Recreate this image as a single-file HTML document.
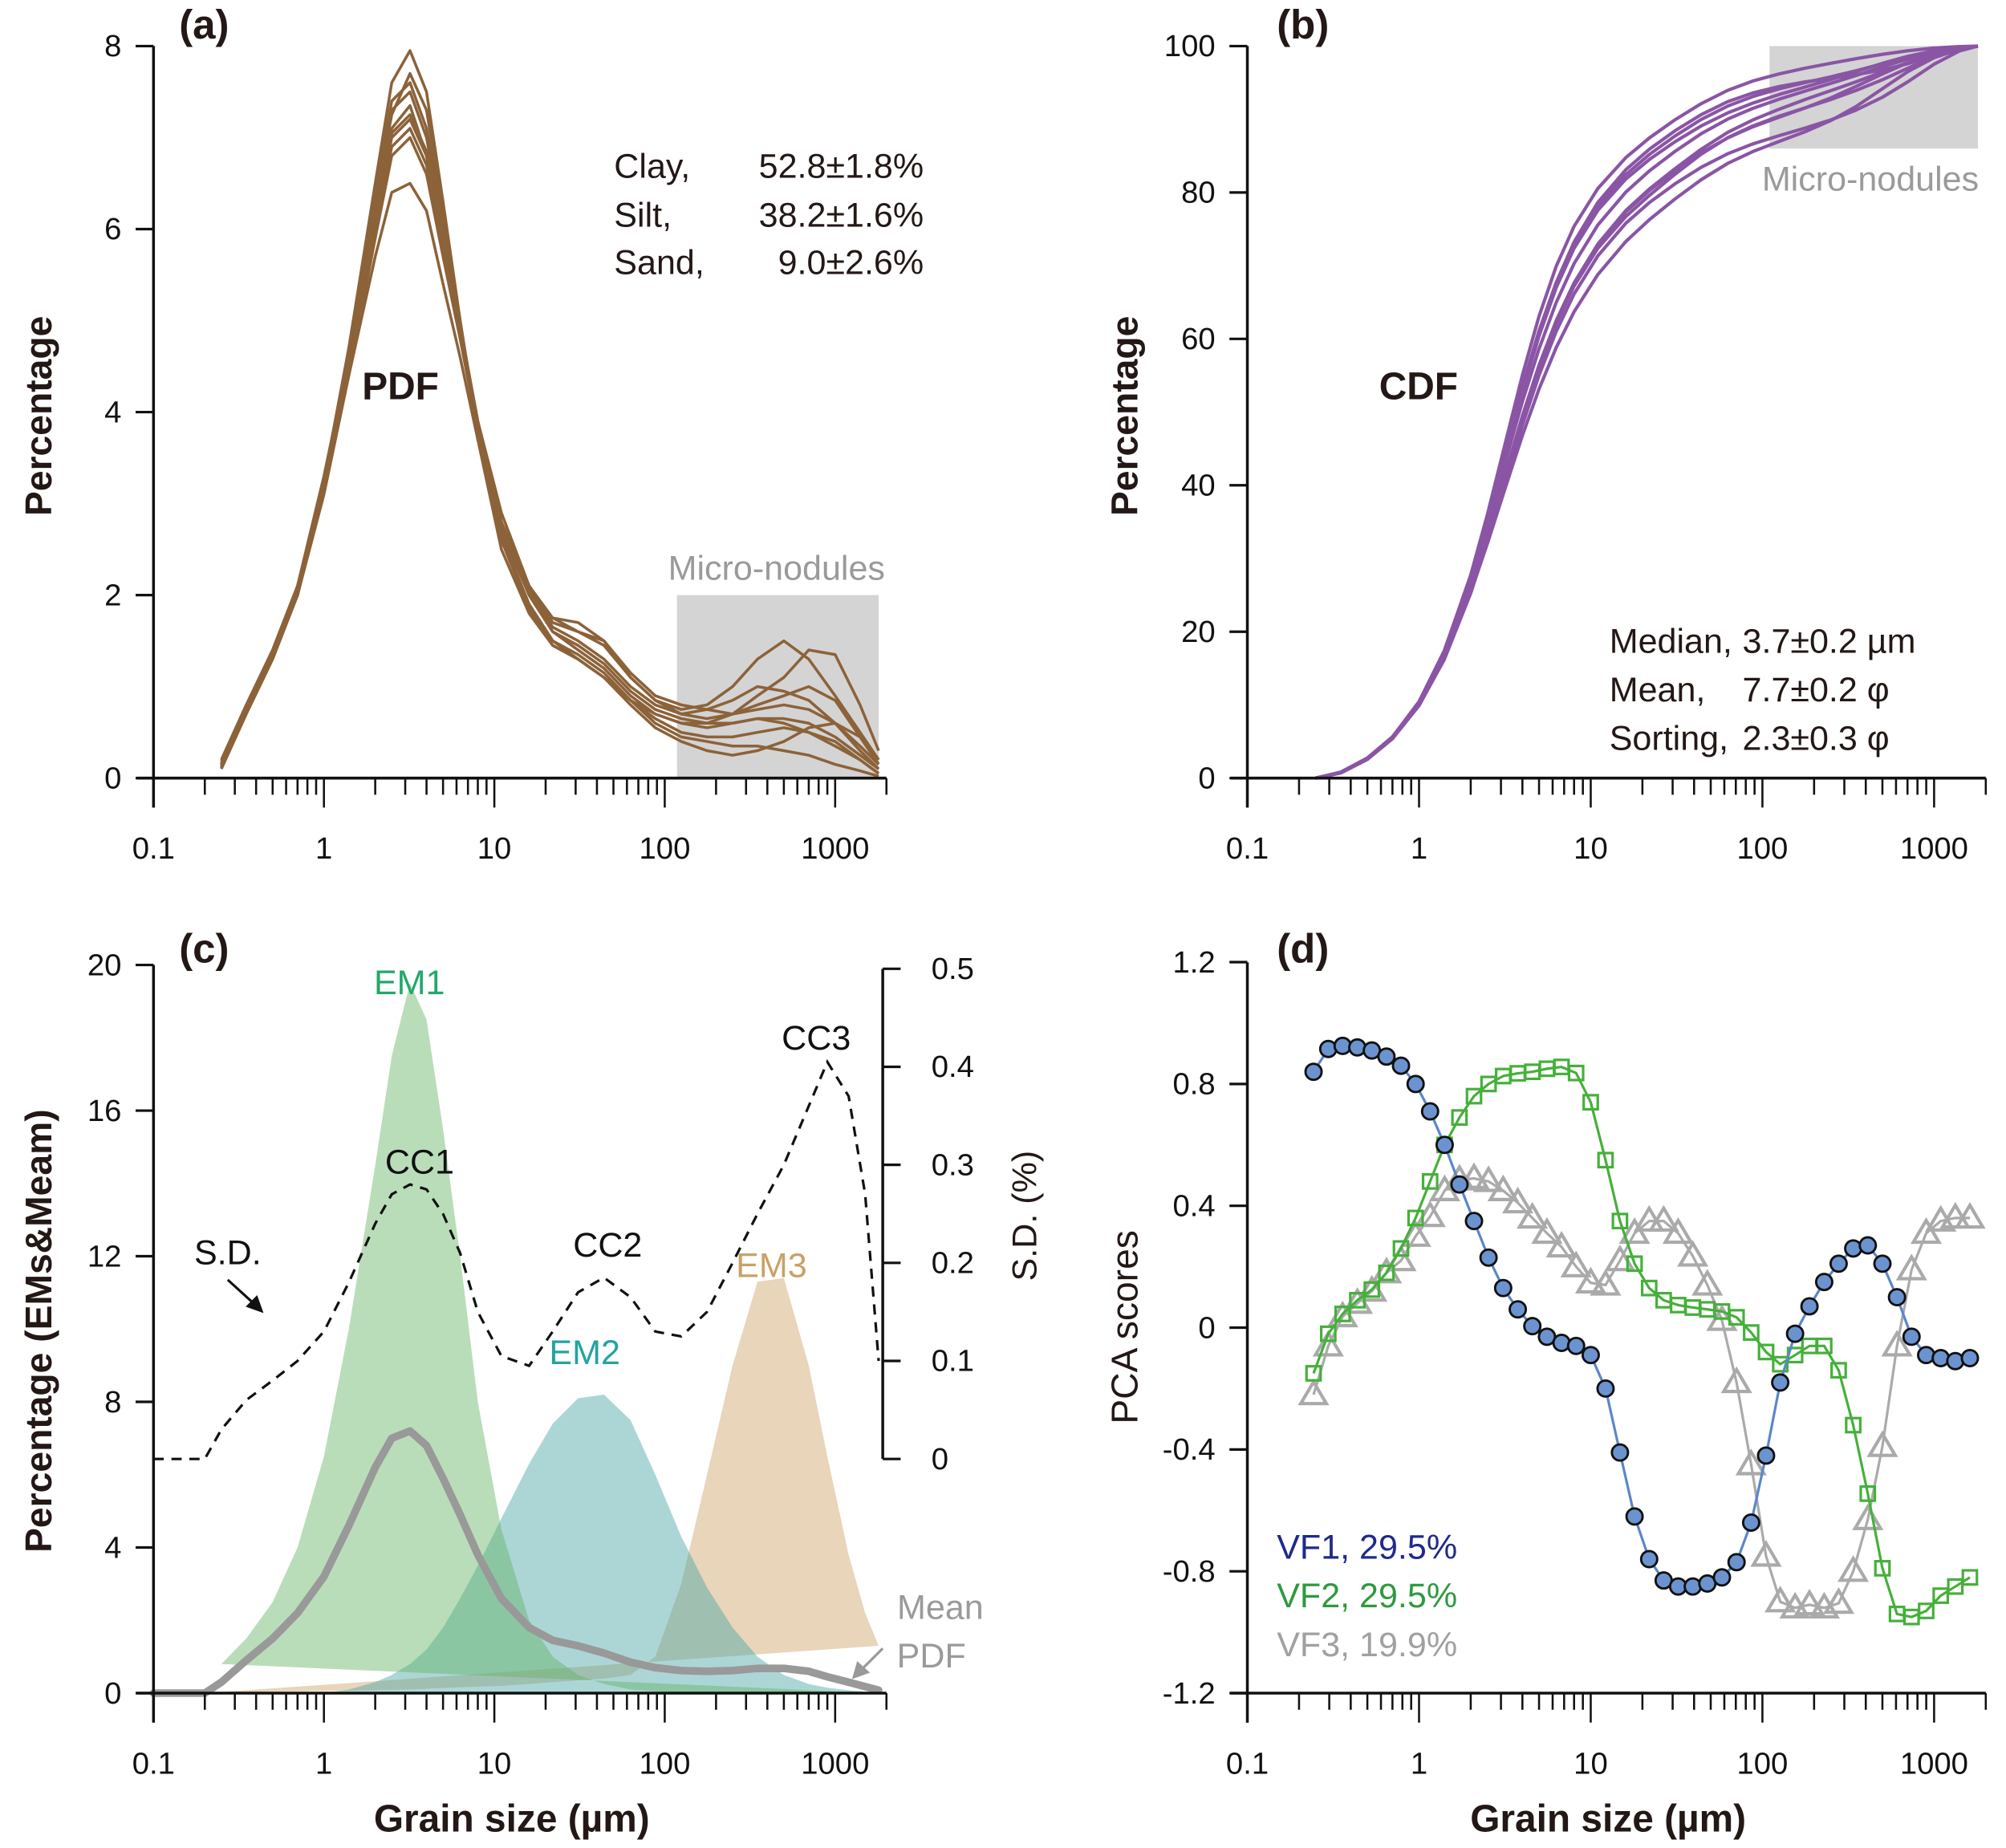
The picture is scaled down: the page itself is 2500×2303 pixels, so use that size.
<!DOCTYPE html>
<html><head><meta charset="utf-8"><style>
html,body{margin:0;padding:0;background:#fff}
svg{display:block}
text{font-family:"Liberation Sans",Arial,sans-serif}
</style></head><body>
<svg id="fig" xmlns="http://www.w3.org/2000/svg" width="2500" height="2303" viewBox="0 0 1568 1444" preserveAspectRatio="none">
<g id="ga"></g>
<g id="gb"></g>
<g id="gc"></g>
<g id="gd"></g>
</svg>
<script>
// ---------- Panel a data ----------
const aSizes=[0.25,0.35,0.5,0.7,1,1.4,2,2.5,3.2,4,5,6.3,8,11,16,22,31,44,63,88,125,177,250,350,500,700,1000,1400,1800];
const pdf1=[0.1,0.7,1.3,2.0,3.2,4.7,6.5,7.6,7.95,7.5,6.3,5.0,3.7,2.5,1.8,1.45,1.3,1.1,0.85,0.6,0.45,0.4,0.35,0.35,0.3,0.25,0.15,0.08,0.02];
const pdf2=[0.15,0.75,1.35,2.0,3.2,4.6,6.2,7.1,7.35,6.8,5.9,4.9,3.8,2.7,2.0,1.6,1.45,1.25,0.95,0.75,0.65,0.6,0.6,0.65,0.65,0.6,0.45,0.25,0.1];
const pdf3=[0.2,0.8,1.4,2.1,3.2,4.4,5.7,6.4,6.5,6.2,5.4,4.6,3.7,2.8,2.1,1.75,1.6,1.45,1.1,0.85,0.75,0.8,1.0,1.3,1.5,1.3,0.9,0.5,0.2];
const pdf4=[0.15,0.75,1.35,2.0,3.1,4.4,5.9,6.8,7.0,6.6,5.7,4.8,3.8,2.8,2.0,1.6,1.4,1.2,0.9,0.7,0.6,0.6,0.7,0.9,1.1,1.4,1.35,0.8,0.3];
const pdf5=[0.12,0.72,1.32,2.0,3.25,4.7,6.4,7.4,7.6,7.1,6.1,5.0,3.8,2.6,1.9,1.5,1.35,1.15,0.85,0.65,0.5,0.45,0.45,0.5,0.55,0.5,0.4,0.2,0.05];
const pdf6=[0.18,0.78,1.4,2.1,3.3,4.6,6.1,7.0,7.2,6.8,5.9,4.9,3.9,2.9,2.1,1.7,1.6,1.5,1.15,0.9,0.8,0.75,0.7,0.75,0.8,0.75,0.6,0.35,0.15];
const pdf7=[0.14,0.74,1.34,2.0,3.15,4.5,6.0,6.9,7.1,6.7,5.8,4.9,3.9,2.8,2.05,1.65,1.5,1.3,1.0,0.8,0.7,0.75,0.85,1.0,0.95,0.85,0.6,0.3,0.1];
const pdf8=[0.13,0.73,1.33,2.0,3.2,4.65,6.3,7.3,7.5,7.0,6.0,4.95,3.85,2.65,1.9,1.5,1.3,1.1,0.8,0.55,0.4,0.3,0.25,0.3,0.4,0.55,0.6,0.45,0.2];
const pdf9=[0.16,0.76,1.36,2.05,3.2,4.55,6.1,7.05,7.25,6.85,5.95,4.95,3.9,2.75,2.0,1.75,1.7,1.5,1.1,0.85,0.7,0.65,0.7,0.8,0.9,1.0,0.85,0.45,0.15];
const pdf10=[0.11,0.71,1.31,2.0,3.2,4.65,6.3,7.25,7.7,7.3,6.2,5.0,3.75,2.6,1.85,1.45,1.3,1.1,0.85,0.7,0.6,0.55,0.6,0.65,0.6,0.5,0.35,0.2,0.05];
const pdfCurves=[pdf1,pdf2,pdf3,pdf4,pdf5,pdf6,pdf7,pdf8,pdf9,pdf10];
const aYTicks=[0,2,4,6,8];
const bYTicks=[0,20,40,60,80,100];
const xTickLabels=["0.1","1","10","100","1000"];
// ---------- Panel c data ----------
const cSizes=[0.1,0.15,0.2,0.25,0.35,0.5,0.7,1,1.4,2,2.5,3.2,4,5,6.3,8,11,16,22,31,44,63,88,125,177,250,350,500,700,900,1200,1500,1800];
const em1=[null,null,null,0.8,1.5,2.5,4.0,6.5,10,14.5,17.5,19.5,18.5,15.5,12,8,4.5,2,1,0.5,0.25,0.1,0.05,0.02,0,0,0,0,0,0,0,0,0];
const em2=[null,null,null,null,null,null,null,0,0.1,0.3,0.5,0.8,1.2,1.8,2.6,3.5,4.8,6.3,7.4,8.1,8.2,7.5,6.0,4.3,2.9,1.8,1.0,0.5,0.25,0.15,0.08,0.04,0.02];
const em3=[null,null,0,0.02,0.03,0.04,0.05,0.06,0.07,0.08,0.09,0.1,0.12,0.14,0.16,0.18,0.2,0.25,0.3,0.35,0.4,0.5,1.0,3,6,9,11.3,11.4,9,6.5,3.8,2.2,1.3];
const meanPdf=[0,0,0,0.3,0.9,1.5,2.2,3.2,4.6,6.2,7.0,7.2,6.8,5.9,4.9,3.8,2.6,1.8,1.45,1.3,1.1,0.85,0.7,0.62,0.6,0.62,0.68,0.68,0.6,0.45,0.3,0.18,0.08];
const sdVals=[0,0,0,0.03,0.06,0.08,0.1,0.13,0.18,0.24,0.27,0.28,0.275,0.25,0.21,0.15,0.105,0.095,0.13,0.17,0.185,0.165,0.13,0.125,0.15,0.2,0.25,0.3,0.36,0.405,0.37,0.27,0.1];
const cYTicks=[0,4,8,12,16,20];
const cRTicks=[0,0.1,0.2,0.3,0.4,0.5];
// ---------- Panel d data ----------
const dSizes=[0.243,0.296,0.359,0.437,0.531,0.646,0.785,0.955,1.16,1.41,1.72,2.09,2.54,3.09,3.76,4.57,5.56,6.76,8.22,10.0,12.2,14.8,18.0,21.9,26.6,32.3,39.3,47.8,58.1,70.7,86.0,105,127,155,188,229,278,338,411,500,608,739,899,1093,1329,1616];
const vf1=[0.84,0.915,0.925,0.92,0.91,0.89,0.86,0.80,0.71,0.60,0.47,0.35,0.23,0.13,0.06,0.005,-0.03,-0.05,-0.06,-0.09,-0.20,-0.41,-0.62,-0.76,-0.83,-0.85,-0.85,-0.84,-0.82,-0.77,-0.64,-0.42,-0.18,-0.02,0.07,0.15,0.21,0.26,0.27,0.21,0.10,-0.03,-0.09,-0.10,-0.11,-0.10];
const vf2=[-0.15,-0.02,0.045,0.09,0.125,0.18,0.26,0.36,0.48,0.60,0.69,0.76,0.80,0.826,0.835,0.84,0.85,0.856,0.836,0.74,0.55,0.35,0.21,0.13,0.09,0.074,0.066,0.06,0.053,0.034,-0.016,-0.08,-0.12,-0.09,-0.06,-0.06,-0.14,-0.32,-0.545,-0.79,-0.94,-0.95,-0.93,-0.88,-0.85,-0.82];
const vf3=[-0.22,-0.06,0.036,0.08,0.12,0.18,0.22,0.30,0.365,0.45,0.485,0.49,0.48,0.45,0.41,0.36,0.31,0.265,0.20,0.147,0.14,0.22,0.31,0.35,0.35,0.31,0.235,0.14,0.024,-0.18,-0.45,-0.75,-0.90,-0.92,-0.91,-0.92,-0.905,-0.80,-0.63,-0.39,-0.06,0.19,0.31,0.35,0.36,0.36];
const dYTicks=[-1.2,-0.8,-0.4,0,0.4,0.8,1.2];

const NS="http://www.w3.org/2000/svg";
function mk(parent,tag,attrs,txt){const e=document.createElementNS(NS,tag);for(const k in attrs)e.setAttribute(k,attrs[k]);if(txt!==undefined)e.textContent=txt;parent.appendChild(e);return e;}
function xL(x0,dec){return s=>x0+(Math.log10(s)+1)*dec;}
function yL(y0,y1,v0,v1){return v=>y0+(v-v0)*(y1-y0)/(v1-v0);}
function pathOf(xs,ys,fx,fy){let d="";let started=false;for(let i=0;i<xs.length;i++){if(ys[i]===null)continue;d+=(started?"L":"M")+fx(xs[i]).toFixed(2)+","+fy(ys[i]).toFixed(2);started=true;}return d;}

function xAxis(g,fx,yAxis,xStart){
  const ax=mk(g,"g",{});
  
  
  mk(ax,"line",{x1:xStart-13,y1:yAxis,x2:fx(2000),y2:yAxis,stroke:"#111","stroke-width":2.2});
  for(let d=-1;d<=3;d++){
    for(let m=1;m<=9;m++){
      const s=m*Math.pow(10,d);
      if(s>2000)break;
      const len=m===1?23:13;
      mk(ax,"line",{x1:fx(s),y1:yAxis,x2:fx(s),y2:yAxis+len,stroke:"#111","stroke-width":1.6});
    }
  }
  xTickLabels.forEach((t,i)=>{
    const tl=mk(ax,"text",{x:fx(Math.pow(10,i-1)),y:yAxis+63,"text-anchor":"middle","font-size":24,fill:"#111"},t);
    
    
  });
}
function yAxis(g,x,fy,ticks,top,bottom,fmt){
  const ax=mk(g,"g",{});
  
  
  mk(ax,"line",{x1:x,y1:top,x2:x,y2:bottom,stroke:"#111","stroke-width":2.2});
  ticks.forEach(t=>{
    mk(ax,"line",{x1:x-14,y1:fy(t),x2:x,y2:fy(t),stroke:"#111","stroke-width":2});
    const tl=mk(ax,"text",{x:x-25,y:fy(t)+8,"text-anchor":"end","font-size":24,fill:"#111"},fmt?fmt(t):String(t));
    
    
  });
}
function label(g,x,y,txt,size,opts,name){
  const a=Object.assign({x:x,y:y,"font-size":size,fill:"#231815"},opts||{});
  const t=mk(g,"text",a,txt);
  
  
  return t;
}

// ================= Panel a =================
(function(){
  const g=document.getElementById('ga');
  const fx=xL(120,133.2), fy=yL(608,36,0,8);
  const box=mk(g,"rect",{x:fx(118),y:fy(2),width:fx(1800)-fx(118),height:fy(0)-fy(2),fill:"#d4d4d4"});
  
  
  pdfCurves.forEach(c=>{
    const p=mk(g,"path",{d:pathOf(aSizes,c,fx,fy),fill:"none",stroke:"#8c6239","stroke-width":2.2,"stroke-linejoin":"round"});
    
    
  });
  xAxis(g,fx,608,120);
  yAxis(g,120,fy,aYTicks,36,631);
  label(g,140,30,"(a)",32,{"font-weight":"bold"},"panel-label-a");
  label(g,283,312,"PDF",30,{"font-weight":"bold"},"pdf-label");
  label(g,607,453,"Micro-nodules",27,{"text-anchor":"middle",fill:"#9a9a9a"},"micro-nodules-label");
  label(g,480,139,"Clay,",27,{},"clay-label");label(g,722,139,"52.8±1.8%",27,{"text-anchor":"end"},"clay-value");
  label(g,480,177,"Silt,",27,{},"silt-label");label(g,722,177,"38.2±1.6%",27,{"text-anchor":"end"},"silt-value");
  label(g,480,214,"Sand,",27,{},"sand-label");label(g,722,214,"9.0±2.6%",27,{"text-anchor":"end"},"sand-value");
  label(g,0,0,"Percentage",29,{"font-weight":"bold","text-anchor":"middle",transform:"translate(40,325) rotate(-90)"},"y-axis-title-a");
})();

// ================= Panel b =================
(function(){
  const g=document.getElementById('gb');
  const fx=xL(975,134.2), fy=yL(608,36,0,100);
  const box=mk(g,"rect",{x:fx(110),y:fy(100),width:fx(1800)-fx(110),height:fy(86)-fy(100),fill:"#d4d4d4"});
  
  
  pdfCurves.forEach(c=>{
    const cum=[0];
    for(let i=1;i<c.length;i++){cum.push(cum[i-1]+(c[i-1]+c[i])/2*(Math.log10(aSizes[i])-Math.log10(aSizes[i-1])));}
    const tot=cum[cum.length-1];
    const cdf=cum.map(v=>v/tot*100);
    const p=mk(g,"path",{d:pathOf(aSizes,cdf,fx,fy),fill:"none",stroke:"#8a55a5","stroke-width":2.6,"stroke-linejoin":"round"});
    
    
  });
  xAxis(g,fx,608,975);
  yAxis(g,975,fy,bYTicks,36,631);
  label(g,998,30,"(b)",32,{"font-weight":"bold"},"panel-label-b");
  label(g,1078,312,"CDF",30,{"font-weight":"bold"},"cdf-label");
  label(g,1462,149,"Micro-nodules",27,{"text-anchor":"middle",fill:"#9a9a9a"},"micro-nodules-label");
  label(g,1258,510,"Median,",27,{},"median-label");label(g,1362,510,"3.7±0.2 µm",27,{},"median-value");
  label(g,1258,548,"Mean,",27,{},"mean-label");label(g,1362,548,"7.7±0.2 φ",27,{},"mean-value");
  label(g,1258,586,"Sorting,",27,{},"sorting-label");label(g,1362,586,"2.3±0.3 φ",27,{},"sorting-value");
  label(g,0,0,"Percentage",29,{"font-weight":"bold","text-anchor":"middle",transform:"translate(889,325) rotate(-90)"},"y-axis-title-b");
})();

// ================= Panel c =================
(function(){
  const g=document.getElementById('gc');
  const fx=xL(120,133.2), fy=yL(1323,754,0,20), fr=yL(1140,757,0,0.5);
  const fills=[[em3,"rgba(200,155,90,0.42)","em3-area"],[em2,"rgba(70,165,165,0.45)","em2-area"],[em1,"rgba(100,180,100,0.45)","em1-area"]];
  fills.forEach(f=>{
    const p=mk(g,"path",{d:pathOf(cSizes,f[0],fx,fy)+"Z",fill:f[1],stroke:"none"});
    
    
  });
  const mp=mk(g,"path",{d:pathOf(cSizes,meanPdf,fx,fy),fill:"none",stroke:"#999","stroke-width":6,"stroke-linejoin":"round","stroke-linecap":"round"});
  
  
  const sd=mk(g,"path",{d:pathOf(cSizes,sdVals,fx,fr),fill:"none",stroke:"#111","stroke-width":2,"stroke-dasharray":"8,6"});
  
  
  xAxis(g,fx,1323,120);
  yAxis(g,120,fy,cYTicks,754,1346);
  const ra=mk(g,"g",{});
  
  
  mk(ra,"line",{x1:690,y1:fr(0.5),x2:690,y2:fr(0),stroke:"#111","stroke-width":2.2});
  cRTicks.forEach(t=>{
    mk(ra,"line",{x1:690,y1:fr(t),x2:704,y2:fr(t),stroke:"#111","stroke-width":2});
    const tl=mk(ra,"text",{x:728,y:fr(t)+8,"font-size":24,fill:"#111"},String(t));
    
    
  });
  label(g,0,0,"S.D. (%)",27,{"text-anchor":"middle",transform:"translate(810,950) rotate(-90)"},"right-axis-title");
  label(g,0,0,"Percentage (EMs&Meam)",29,{"font-weight":"bold","text-anchor":"middle",transform:"translate(40,1040) rotate(-90)"},"y-axis-title-c");
  label(g,400,1431,"Grain size (µm)",30,{"font-weight":"bold","text-anchor":"middle"},"x-axis-title-c");
  label(g,140,752,"(c)",32,{"font-weight":"bold"},"panel-label-c");
  label(g,320,777,"EM1",27,{"text-anchor":"middle",fill:"#22a86a"},"em1-label");
  label(g,328,917,"CC1",27,{"text-anchor":"middle",fill:"#111"},"cc1-label");
  label(g,475,982,"CC2",27,{"text-anchor":"middle",fill:"#111"},"cc2-label");
  label(g,638,820,"CC3",27,{"text-anchor":"middle",fill:"#111"},"cc3-label");
  label(g,603,998,"EM3",27,{"text-anchor":"middle",fill:"#c9a166"},"em3-label");
  label(g,457,1066,"EM2",27,{"text-anchor":"middle",fill:"#22a3a0"},"em2-label");
  label(g,178,988,"S.D.",27,{"text-anchor":"middle",fill:"#111"},"sd-label");
  label(g,735,1265,"Mean",27,{"text-anchor":"middle",fill:"#9a9a9a"},"mean-label");
  label(g,728,1303,"PDF",27,{"text-anchor":"middle",fill:"#9a9a9a"},"mean-pdf-label");
  mk(g,"line",{x1:178,y1:1000,x2:200,y2:1020,stroke:"#111","stroke-width":2});
  mk(g,"path",{d:"M206,1026 L192,1021 L201,1012 Z",fill:"#111"});
  mk(g,"line",{x1:690,y1:1288,x2:672,y2:1306,stroke:"#999","stroke-width":2});
  mk(g,"path",{d:"M666,1312 L670,1298 L680,1307 Z",fill:"#999"});
})();

// ================= Panel d =================
(function(){
  const g=document.getElementById('gd');
  const fx=xL(975,134.2), fy=yL(1037.4,1323,0,-1.2);
  xAxis(g,fx,1323,975);
  yAxis(g,975,fy,dYTicks,752,1346,t=>t===0?"0":t.toFixed(1));
  const l3=mk(g,"path",{d:pathOf(dSizes,vf3,fx,fy),fill:"none",stroke:"#aaa","stroke-width":2});
  
  
  dSizes.forEach((s,i)=>{
    const x=fx(s),y=fy(vf3[i]);
    const t=mk(g,"path",{d:`M${x},${y-10} L${x+10},${y+7} L${x-10},${y+7} Z`,fill:"none",stroke:"#aaa","stroke-width":2.6});
    
    
  });
  const l2=mk(g,"path",{d:pathOf(dSizes,vf2,fx,fy),fill:"none",stroke:"#45b03a","stroke-width":2});
  
  
  dSizes.forEach((s,i)=>{
    const r=mk(g,"rect",{x:fx(s)-5.5,y:fy(vf2[i])-5.5,width:11,height:11,fill:"none",stroke:"#45b03a","stroke-width":2});
    
    
  });
  const l1=mk(g,"path",{d:pathOf(dSizes,vf1,fx,fy),fill:"none",stroke:"#5b87c9","stroke-width":2});
  
  
  dSizes.forEach((s,i)=>{
    const c=mk(g,"circle",{cx:fx(s),cy:fy(vf1[i]),r:6.3,fill:"#6b93d0",stroke:"#111","stroke-width":1.8});
    
    
  });
  label(g,998,752,"(d)",32,{"font-weight":"bold"},"panel-label-d");
  label(g,998,1218,"VF1, 29.5%",27,{fill:"#1f2a8a"},"vf1-legend");
  label(g,998,1256,"VF2, 29.5%",27,{fill:"#2e9a3e"},"vf2-legend");
  label(g,998,1294,"VF3, 19.9%",27,{fill:"#a0a0a0"},"vf3-legend");
  label(g,0,0,"PCA scores",29,{"text-anchor":"middle",transform:"translate(889,1037) rotate(-90)"},"y-axis-title-d");
  label(g,1257,1431,"Grain size (µm)",30,{"font-weight":"bold","text-anchor":"middle"},"x-axis-title-d");
})();
</script>
</body></html>
